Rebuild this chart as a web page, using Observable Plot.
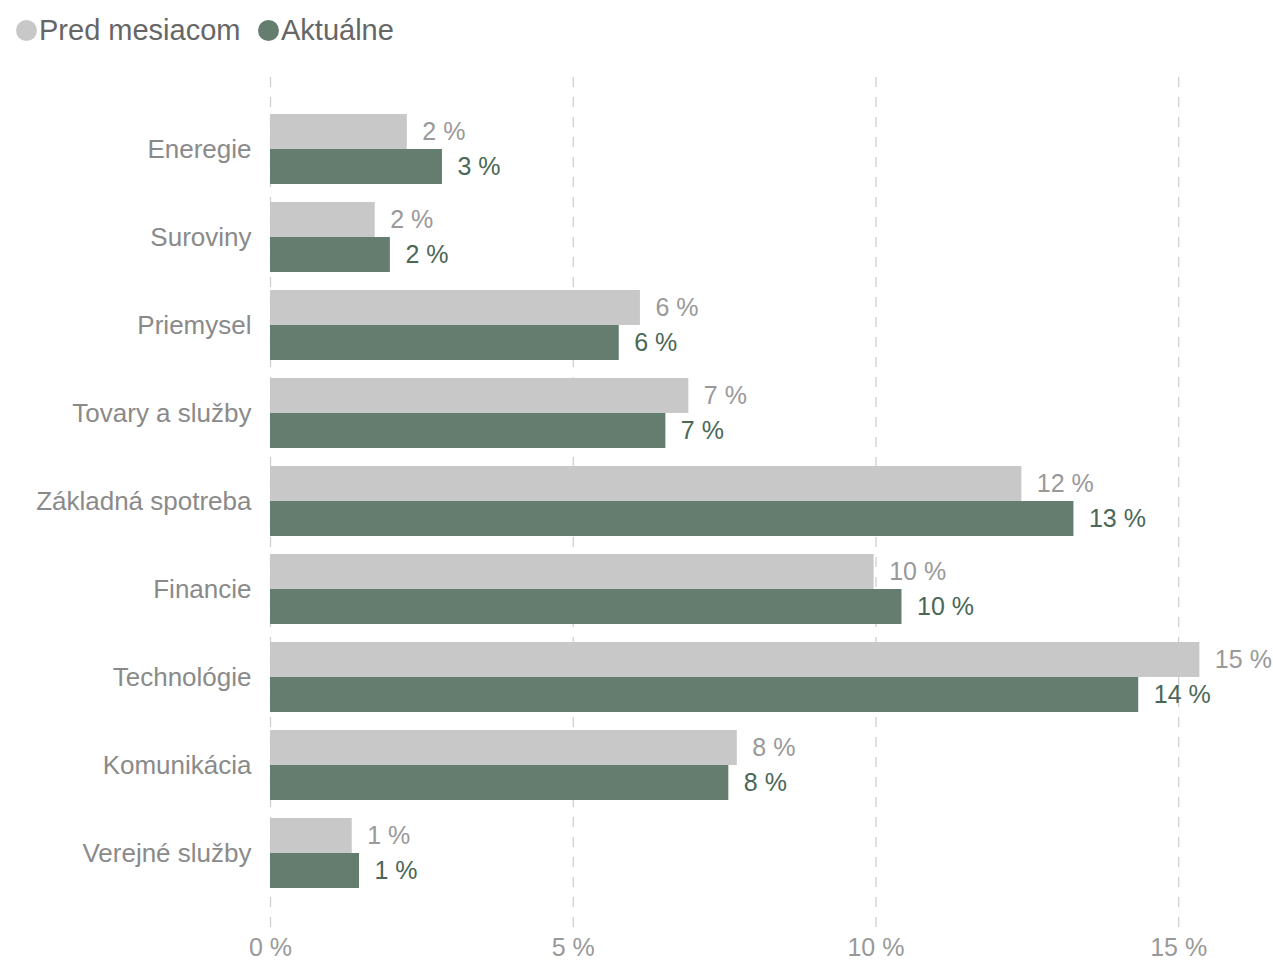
<!DOCTYPE html>
<html>
<head>
<meta charset="utf-8">
<script src="https://cdn.jsdelivr.net/npm/d3@7"></script>
<script src="https://cdn.jsdelivr.net/npm/@observablehq/plot@0.6"></script>
<style>
  html, body { margin: 0; padding: 0; background: #fff; overflow: hidden; }
  body { font-family: "Liberation Sans", Arial, sans-serif; width: 1273px; }
  #legend { height: 62px; position: relative; }
  .item { position: absolute; top: 13px; display: flex; align-items: center; font-size: 29px; color: #666; line-height: 34px; }
  .dot { width: 21px; height: 21px; border-radius: 50%; margin-right: 2px; display: inline-block; }
  #chart svg { display: block; }
  g[aria-label="x-axis tick label"] text { fill: #999; }
  g[aria-label="y-axis tick label"] text { fill: #8a8a8a; }
</style>
</head>
<body>
<div id="legend"></div>
<div id="chart"></div>
<script>
const categories = ["Eneregie", "Suroviny", "Priemysel", "Tovary a služby", "Základná spotreba", "Financie", "Technológie", "Komunikácia", "Verejné služby"];
const seriesNames = ["Pred mesiacom", "Aktuálne"];
const seriesColors = ["#c8c8c8", "#657d6f"];
const labelColors = ["#999999", "#4a6757"];
const previous = [2.26, 1.73, 6.11, 6.91, 12.41, 9.97, 15.35, 7.71, 1.35];
const current = [2.84, 1.98, 5.76, 6.53, 13.27, 10.43, 14.34, 7.57, 1.47];
const xTicks = [0, 5, 10, 15];

const prevRows = categories.map((c, i) => ({category: c, value: previous[i], series: seriesNames[0]}));
const curRows = categories.map((c, i) => ({category: c, value: current[i], series: seriesNames[1]}));

// legend
const legend = document.getElementById("legend");
const lefts = [16, 258];
seriesNames.forEach((s, i) => {
  const item = document.createElement("div");
  item.className = "item";
  item.style.left = lefts[i] + "px";
  const dot = document.createElement("span");
  dot.className = "dot";
  dot.style.background = seriesColors[i];
  item.appendChild(dot);
  item.appendChild(document.createTextNode(s));
  legend.appendChild(item);
});

const fmt = d => `${Math.round(d.value)} %`;

const chart = Plot.plot({
  width: 1273,
  height: 900,
  marginLeft: 270,
  marginRight: 4,
  marginTop: 15,
  marginBottom: 35,
  style: {fontFamily: "'Liberation Sans', Arial, sans-serif", background: "#fff"},
  x: {domain: [0, 16.5], ticks: xTicks, label: null},
  y: {domain: categories, paddingInner: 0.208, paddingOuter: 0.104, insetTop: 24, insetBottom: 27, label: null},
  marks: [
    Plot.ruleX(xTicks, {stroke: "#d0d0d0", strokeWidth: 1.3, strokeDasharray: "10,10"}),
    Plot.barX(prevRows, {x: "value", y: "category", fill: seriesColors[0], insetBottom: 35}),
    Plot.barX(curRows, {x: "value", y: "category", fill: seriesColors[1], insetTop: 35}),
    Plot.text(prevRows, {x: "value", y: "category", text: fmt, dx: 15, dy: -17.5, textAnchor: "start", fill: labelColors[0], fontSize: 25}),
    Plot.text(curRows, {x: "value", y: "category", text: fmt, dx: 15, dy: 17.5, textAnchor: "start", fill: labelColors[1], fontSize: 25}),
    Plot.axisX({ticks: xTicks, tickSize: 0, tickPadding: 11, fontSize: 25, tickFormat: d => `${d} %`, label: null}),
    Plot.axisY({tickSize: 0, tickPadding: 19, fontSize: 26, label: null})
  ]
});
document.getElementById("chart").appendChild(chart);
</script>
</body>
</html>
